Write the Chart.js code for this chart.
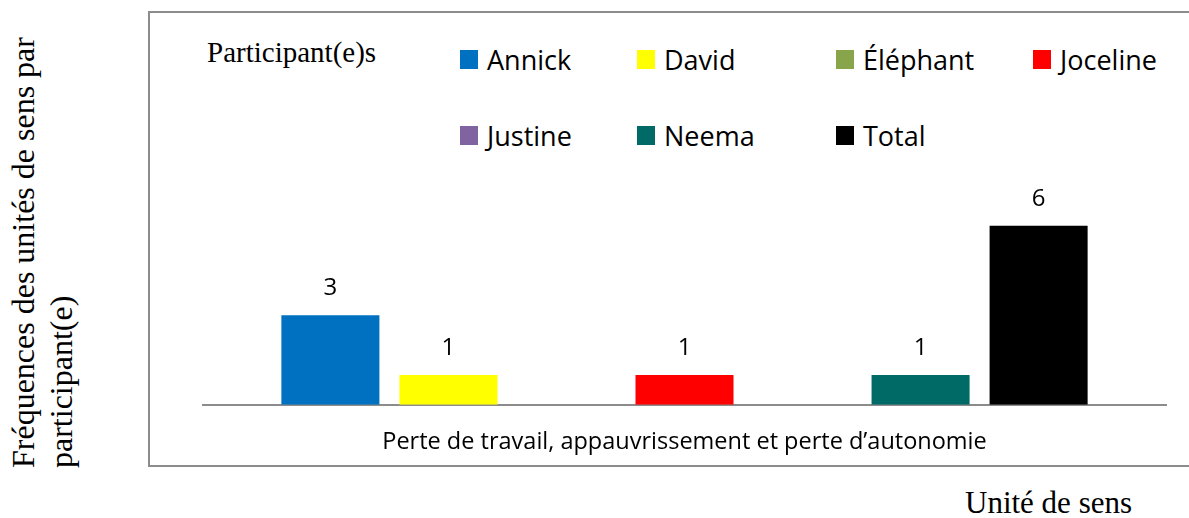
<!DOCTYPE html>
<html>
<head>
<meta charset="utf-8">
<script src="https://cdn.jsdelivr.net/npm/chart.js@4.4.0/dist/chart.umd.min.js"></script>
<style>
  html, body { margin: 0; padding: 0; background: #fff; }
  #wrap { position: relative; width: 1189px; height: 518px; overflow: hidden; }
  #frame {
    position: absolute; left: 148px; top: 11px; width: 1100px; height: 452px;
    border: 2px solid #8c8c8c; border-right: none;
  }
  #chart { position: absolute; left: 0; top: 0; }
  .serif { font-family: "Liberation Serif", "Times New Roman", serif; color: #000; position: absolute; white-space: nowrap; }
  #ytitle {
    left: 0; top: 468px; width: 470px; font-size: 32px; line-height: 38px; padding-top: 4px;
    transform-origin: 0 0; transform: rotate(-90deg);
  }
  #xtitle { left: 965px; top: 485px; font-size: 31px; }
  #legtitle { left: 207px; top: 36px; font-size: 29px; }
  #legend { position: absolute; left: 0; top: 0; }
  #legend .item {
    position: absolute; height: 19px; display: flex; align-items: center;
    font-family: "Open Sans", sans-serif; font-size: 27px; color: #000; white-space: nowrap;
  }
  #legend .swatch { width: 18px; height: 19px; margin-right: 9px; flex: none; }
</style>
</head>
<body>
<div id="wrap">
  <div id="frame"></div>
  <div id="ytitle" class="serif">Fréquences des unités de sens par<br>participant(e)</div>
  <div id="xtitle" class="serif">Unité de sens</div>
  <div id="legtitle" class="serif">Participant(e)s</div>
  <div id="legend"></div>
  <canvas id="chart" width="1189" height="518"></canvas>
</div>
<script>
const categories = ['Perte de travail, appauvrissement et perte d\u2019autonomie'];
const participants = ['Annick', 'David', 'Éléphant', 'Joceline', 'Justine', 'Neema', 'Total'];
const frequencies = [3, 1, 0, 1, 0, 1, 6];
const colours = ['#0070C0', '#FFFF00', '#88A54B', '#FF0000', '#8064A2', '#006A66', '#000000'];

const legendCols = [460, 637, 836, 1033];

const htmlLegend = {
  id: 'htmlLegend',
  afterUpdate(chart) {
    const box = document.getElementById('legend');
    box.innerHTML = '';
    chart.data.datasets.forEach((ds, i) => {
      const item = document.createElement('div');
      item.className = 'item';
      item.style.left = legendCols[i % 4] + 'px';
      item.style.top = (50 + Math.floor(i / 4) * 76) + 'px';
      const sw = document.createElement('span');
      sw.className = 'swatch';
      sw.style.background = ds.backgroundColor;
      const txt = document.createElement('span');
      txt.textContent = ds.label;
      item.appendChild(sw);
      item.appendChild(txt);
      box.appendChild(item);
    });
  }
};

const valueLabels = {
  id: 'valueLabels',
  afterDatasetsDraw(chart) {
    const ctx = chart.ctx;
    ctx.save();
    ctx.font = '24px "Open Sans"';
    ctx.fillStyle = '#000';
    ctx.textAlign = 'center';
    ctx.textBaseline = 'middle';
    chart.data.datasets.forEach((ds, i) => {
      chart.getDatasetMeta(i).data.forEach((bar, j) => {
        const v = ds.data[j];
        if (!v) return;
        ctx.fillText(String(v), bar.x, bar.y - 27);
      });
    });
    ctx.restore();
  }
};

const chart = new Chart(document.getElementById('chart'), {
  type: 'bar',
  data: {
    labels: categories,
    datasets: participants.map((name, i) => ({
      label: name,
      data: [frequencies[i]],
      backgroundColor: colours[i],
      borderWidth: 0,
      categoryPercentage: 0.858,
      barPercentage: 0.8305
    }))
  },
  options: {
    responsive: false,
    animation: false,
    layout: { padding: { left: 203, right: 23, top: 196, bottom: 39 } },
    plugins: {
      legend: { display: false },
      tooltip: { enabled: false }
    },
    scales: {
      x: {
        grid: { display: false, drawTicks: false },
        border: { display: true, color: '#8c8c8c', width: 2 },
        ticks: { color: '#000', padding: 23, font: { family: 'Open Sans', size: 23.5 } }
      },
      y: {
        display: false,
        min: 0,
        max: 7
      }
    }
  },
  plugins: [htmlLegend, valueLabels]
});
</script>
</body>
</html>
